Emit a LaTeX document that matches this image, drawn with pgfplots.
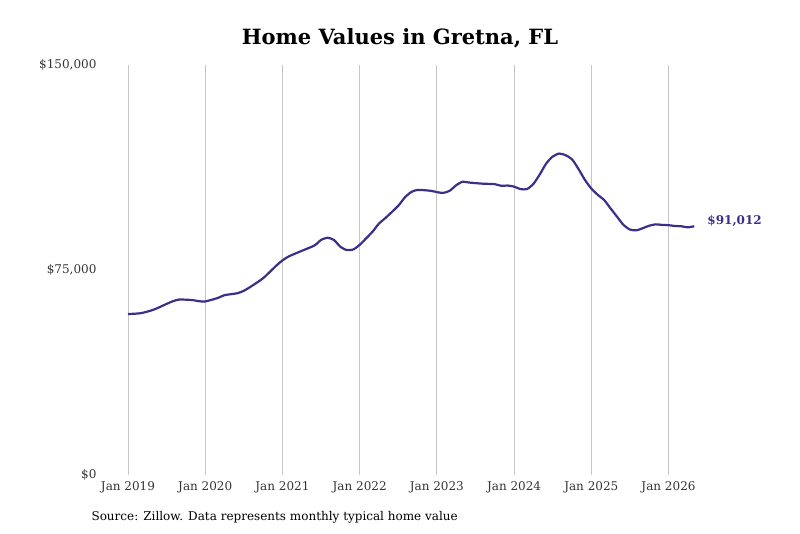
\documentclass[border=0pt]{standalone}
\usepackage{pgfplots}
\pgfplotsset{compat=1.18}
\usepackage{fontspec}
\setmainfont{DejaVu Serif}
\usetikzlibrary{calc}
\definecolor{line}{HTML}{3B2F8A}
\begin{document}
\begin{tikzpicture}[x=1pt,y=1pt]
\begin{axis}[name=ax, at={(0,0)}, anchor=south west,
  scale only axis, width=592pt, height=410pt,
  xmin=0, xmax=92, ymin=0, ymax=150000,
  scaled y ticks=false,
  axis line style={draw=none}, tick style={draw=none},
  xtick={0,12,24,36,48,60,72,84},
  xticklabels={Jan 2019,Jan 2020,Jan 2021,Jan 2022,Jan 2023,Jan 2024,Jan 2025,Jan 2026},
  ytick={0,75000,150000},
  yticklabels={\$0,\$75{,}000,\$150{,}000},
  xmajorgrids, major grid style={gray!45, line width=0.8pt},
  xticklabel style={font=\fontsize{12}{14}\selectfont, text=black!80, yshift=-3pt},
  yticklabel style={font=\fontsize{12}{14}\selectfont, text=black!80, xshift=-28pt, anchor=east},
  /pgf/number format/assume math mode=true,
  clip=false]
\addplot[line, line width=2.2pt, smooth, tension=0.4] coordinates {
(0,58.9e3)(2,59.2e3)(4,60.5e3)(6,62.6e3)(7,63.6e3)(8,64.2e3)(10,64.0e3)(11,63.6e3)(12,63.5e3)
(14,64.8e3)(15,65.8e3)(17,66.5e3)(18,67.4e3)(19,68.8e3)(21,72e3)(23,76.5e3)(24,78.5e3)(25,80e3)
(27,82e3)(29,84e3)(30,86e3)(31,86.8e3)(32,86e3)(33,83.5e3)(34,82.3e3)(35,82.5e3)(36,84.2e3)
(38,89e3)(39,92e3)(40,94e3)(42,98.5e3)(43,101.5e3)(44,103.5e3)(45,104.3e3)(47,104e3)(48,103.5e3)(49,103.2e3)
(50,104e3)(51,106e3)(52,107.3e3)(53,107e3)(55,106.6e3)(57,106.4e3)(58,105.8e3)(59,105.9e3)(60,105.5e3)(61,104.6e3)(62,104.6e3)
(63,106.5e3)(64,110e3)(65,114e3)(66,116.5e3)(67,117.6e3)(68,117e3)(69,115.5e3)(70,112e3)(71,108e3)(72,104.8e3)
(73,102.5e3)(74,100.6e3)(75,97.5e3)(76,94.5e3)(77,91.5e3)(78,89.8e3)(79,89.5e3)(80,90.3e3)(81,91.2e3)(82,91.7e3)
(83,91.5e3)(84,91.4e3)(85,91.1e3)(86,91e3)(87,90.6e3)(88,91.012e3)};
\node[anchor=west, text=line, font=\fontsize{12}{14}\selectfont\bfseries] at (axis cs:89.5,93000) {\$91,012};
\end{axis}
\path ($(ax.south west)+(-128pt,-58pt)$) rectangle ($(ax.north east)+(80pt,65pt)$);
\node[font=\fontsize{21}{24}\selectfont\bfseries] at ($(ax.north west)!0.5!(ax.north east)+(-24pt,27pt)$) {Home Values in Gretna, FL};
\node[anchor=west, font=\fontsize{12}{14}\selectfont] at ($(ax.south west)+(-40pt,-42pt)$) {Source: Zillow. Data represents monthly typical home value};
\end{tikzpicture}
\end{document}
